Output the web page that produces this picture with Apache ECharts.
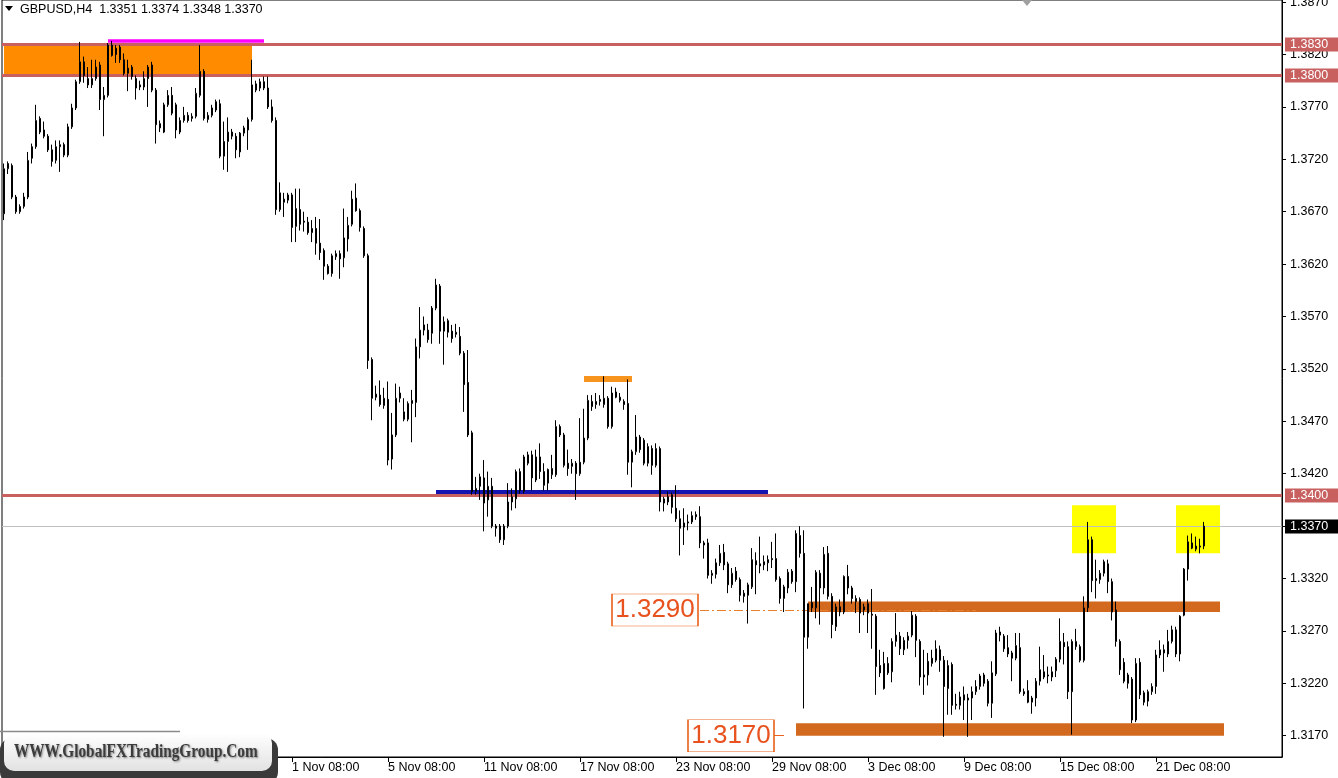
<!DOCTYPE html>
<html><head><meta charset="utf-8">
<script src="https://cdn.jsdelivr.net/npm/echarts@6/dist/echarts.min.js"></script>
<style>html,body{margin:0;padding:0;background:#fff}#c{width:1338px;height:778px}</style>
</head><body><div id="c"></div>
<script>
// Prices are stored as pips above BASE (1.3000); H4 candles starting 14 Oct 2021 08:00
const BASE = 1.3;
const opens = [
668,711,714,684,670,675,684,721,732,759, 748,742,729,719,732,734,724,751,769,794,
813,797,791,797,810,777,781,819,826,827, 815,802,808,797,791,789,797,810,786,754,
746,772,781,772,746,757,762,759,761,781, 804,758,762,767,773,723,737,742,742,727,
745,748,758,786,788,794,788,770,757,672, 679,681,686,656,672,661,660,650,654,640,
633,618,611,627,630,626,644,658,683,671, 654,628,529,493,495,485,491,434,457,492,
479,472,487,488,541,557,557,554,578,599, 556,566,556,553,551,535,507,459,403,408,
416,395,408,370,370,357,370,393,396,422, 403,430,438,414,436,422,411,419,419,465,
457,430,427,430,420,431,454,484,486,489, 486,492,465,498,493,489,487,431,441,455,
452,430,444,428,444,392,393,400,387,377, 369,373,374,381,379,354,354,323,324,335,
345,334,314,327,319,306,304,312,337,334, 333,335,339,339,320,301,311,327,317,361,
344,264,297,292,325,311,344,303,274,293, 288,322,311,301,300,290,296,286,284,237,
215,239,231,260,265,252,261,266,284,260, 228,228,239,242,252,242,215,238,200,199,
209,204,206,212,217,228,222,201,229,269, 265,254,249,244,254,212,213,202,206,222,
231,227,226,232,243,259,255,212,255,255, 242,292,357,318,319,325,334,317,290,260,
240,228,224,185,240,211,203,212,217,247, 252,248,260,271,248,285,329,354,348,350,
351];
const highs = [
716,718,716,686,677,688,727,735,772,761, 756,744,734,738,738,736,754,773,796,832,
818,808,815,815,813,789,831,833,829,829, 821,815,810,800,795,804,810,813,788,757,
774,786,789,774,760,770,765,764,788,829, 806,765,772,777,777,756,760,749,745,746,
752,760,815,795,797,799,799,777,760,698, 688,688,688,692,692,670,665,662,665,663,
635,620,630,633,633,673,665,690,697,673, 656,630,531,504,509,502,508,478,506,503,
492,489,500,549,579,570,563,580,606,601, 570,568,562,563,560,537,538,461,417,420,
433,422,416,372,372,372,411,406,424,425, 438,441,442,443,449,430,425,438,471,467,
459,443,434,432,473,482,495,495,497,495, 513,494,503,502,497,491,510,443,476,457,
454,449,447,449,446,398,403,402,409,385, 387,381,384,384,389,356,358,328,339,352,
353,336,330,331,321,309,316,349,345,360, 342,342,355,363,322,314,329,329,366,370,
366,296,312,328,328,350,351,306,296,300, 323,333,313,304,302,296,300,310,286,252,
250,245,263,287,269,264,269,289,286,262, 252,249,252,261,256,246,242,240,210,212,
217,210,217,223,229,230,224,241,271,274, 267,266,251,268,268,215,223,208,225,255,
247,236,236,245,282,268,260,262,272,257, 303,374,360,338,328,338,338,320,298,262,
244,230,226,244,244,213,214,220,252,261, 257,271,275,274,285,330,361,363,360,358,
374];
const lows = [
662,706,682,668,668,673,682,716,730,744, 740,727,713,716,708,722,722,749,767,792,
793,788,788,795,767,742,779,818,812,812, 800,785,796,777,786,786,770,784,735,746,
745,770,762,740,744,755,755,756,759,779, 757,755,760,765,721,710,708,739,721,722,
742,729,756,784,785,786,768,755,667,670, 665,678,641,641,652,651,648,641,629,624,
605,610,608,624,606,617,632,656,670,651, 626,520,471,490,484,482,428,424,455,488,
470,470,450,474,530,552,545,544,576,544, 524,550,545,550,533,479,455,400,400,395,
365,379,368,360,354,352,368,385,387,401, 401,428,404,412,415,404,404,415,417,455,
426,418,420,395,418,429,452,480,482,485, 483,463,463,492,488,481,419,407,438,440,
428,427,419,426,384,384,390,382,374,342, 352,366,372,376,349,339,320,315,320,332,
328,306,311,317,298,297,277,310,305,325, 328,327,330,317,296,288,306,315,307,340,
196,253,288,282,276,305,300,263,270,284, 286,305,296,287,268,285,268,253,209,226,
214,228,221,255,247,247,253,264,245,218, 209,218,236,240,231,169,190,190,195,195,
185,169,185,209,214,217,198,187,227,260, 250,245,222,242,210,208,201,191,198,218,
224,220,222,226,240,238,205,171,252,240, 240,288,307,301,315,322,306,280,255,228,
220,215,182,183,205,199,198,209,210,244, 231,245,258,245,241,284,318,348,346,344,
348];
const closes = [
711,716,684,670,675,684,719,732,757,746, 742,729,718,732,734,724,751,769,794,813,
800,791,797,808,777,781,829,829,820,815, 802,807,799,788,789,797,808,786,753,750,
772,781,764,748,757,762,757,761,783,804, 759,762,769,775,723,737,746,746,729,745,
750,758,791,792,794,788,770,757,672,688, 682,686,655,673,658,660,650,654,640,631,
618,611,628,630,625,645,657,682,671,655, 628,528,492,496,486,492,433,457,492,497,
472,487,490,541,557,562,548,578,600,556, 565,555,549,555,535,505,457,403,406,417,
392,408,370,368,357,370,393,398,422,404, 436,438,416,436,422,409,424,425,465,457,
428,425,430,420,431,454,490,489,489,491, 492,465,497,493,490,486,431,441,455,443,
430,446,428,444,393,396,398,388,377,368, 373,374,380,379,354,352,323,325,335,344,
333,314,325,319,304,303,314,338,333,332, 336,338,338,319,301,312,326,317,363,344,
264,296,292,326,311,343,303,276,293,288, 322,311,301,298,287,293,287,285,236,230,
239,230,260,266,253,261,265,285,261,226, 226,241,244,253,242,217,237,199,199,207,
204,206,212,217,227,220,201,230,268,266, 253,248,244,256,212,210,202,206,222,233,
226,228,231,243,260,255,212,260,260,242, 292,357,318,320,325,336,317,288,260,233,
222,220,185,239,209,202,212,217,247,252, 249,260,271,248,284,329,355,349,351,351,
370];

const futureBars = 19;
const xTickLabels = ['1 Nov 08:00','5 Nov 08:00','11 Nov 08:00','17 Nov 08:00','23 Nov 08:00',
  '29 Nov 08:00','3 Dec 08:00','9 Dec 08:00','15 Dec 08:00','21 Dec 08:00'];
const yTicks = [1.3170,1.3220,1.3270,1.3320,1.3370,1.3420,1.3470,1.3520,1.3570,1.3620,1.3670,1.3720,1.3770,1.3820,1.3870];

// drawn objects: [kind, fromBar, toBar, lowPrice, highPrice]
const zones = [
  ['orange', 0, 62, 1.3800, 1.3830],
  ['yellow', 267, 278, 1.3344, 1.3390],
  ['yellow', 293, 304, 1.3344, 1.3390],
  ['brown', 201, 304, 1.3288, 1.3298],
  ['brown', 198, 305, 1.3170, 1.3182]
];
// [kind, fromBar, toBar, price]
const segments = [
  ['magenta', 26, 65, 1.3833],
  ['orangeBar', 145, 157, 1.3511],
  ['blue', 108, 191, 1.3401]
];
// full width levels: [kind, price]
const levels = [['bid', 1.3370], ['res', 1.3830], ['res', 1.3800], ['res', 1.3400]];
const dashSegment = [174, 243, 1.3290];
const tickSegment = [192, 195, 1.3170];
// annotation boxes: [text, bar, price]
const annotations = [['1.3290', 163, 1.3290], ['1.3170', 182, 1.3170]];

// ---------- build ----------
const FONT = 'Liberation Sans';
const months = ['Jan','Feb','Mar','Apr','May','Jun','Jul','Aug','Sep','Oct','Nov','Dec'];
const pad = n => (n < 10 ? '0' : '') + n;
const cats = [];
let t = Date.UTC(2021, 9, 14, 8);
while (cats.length < opens.length + futureBars) {
  const d = new Date(t);
  const wd = d.getUTCDay();
  if (wd !== 0 && wd !== 6) cats.push(d.getUTCDate() + ' ' + months[d.getUTCMonth()] + ' ' + pad(d.getUTCHours()) + ':00');
  t += 4 * 3600e3;
}
const P = v => +(BASE + v / 1e4).toFixed(4);
const candles = opens.map((o, i) => [P(o), P(closes[i]), P(lows[i]), P(highs[i])]);

const zoneColor = { orange: '#FF8C00', yellow: '#FFFF00', brown: '#D2691E' };
const segStyle = {
  magenta: { color: '#FF00FF', width: 3.5 },
  orangeBar: { color: '#F7941D', width: 6 },
  blue: { color: '#1414B0', width: 7 }
};
const levelStyle = {
  res: { line: '#C86060', width: 3, tag: '#C86060' },
  bid: { line: '#C0C0C0', width: 1, tag: '#000000' }
};
const isTick = (i, v) => xTickLabels.indexOf(v) >= 0;

const last = opens.length - 1;
const header = 'GBPUSD,H4  ' + [opens[last], highs[last], lows[last], closes[last]].map(v => P(v).toFixed(4)).join(' ');

const helper = (extra) => Object.assign({ type: 'line', data: [], silent: true, clip: false }, extra);

const option = {
  animation: false,
  backgroundColor: '#fff',
  grid: { left: 2, right: 56, top: 0, bottom: 21, containLabel: false, outerBoundsMode: 'none',
    show: true, borderColor: '#000', borderWidth: 1, backgroundColor: '#fff' },
  xAxis: {
    type: 'category', data: cats, boundaryGap: true,
    axisLine: { lineStyle: { color: '#000', width: 1 } },
    axisTick: { show: true, interval: isTick, alignWithLabel: true, length: 5, lineStyle: { color: '#000' } },
    axisLabel: { interval: isTick, align: 'left', margin: 4, color: '#000', fontSize: 12.5, fontFamily: FONT },
    splitLine: { show: false }
  },
  yAxis: {
    type: 'value', position: 'right', min: 1.31497, max: 1.3872, scale: true,
    axisLine: { show: true, lineStyle: { color: '#000' } },
    axisTick: { show: true, customValues: yTicks, length: 4, lineStyle: { color: '#000' } },
    axisLabel: { customValues: yTicks, formatter: v => v.toFixed(4), color: '#000', fontSize: 12.5, fontFamily: FONT, margin: 8 },
    splitLine: { show: false }
  },
  series: [
    helper({
      markArea: {
        silent: true, z: 1,
        data: zones.map(z => [
          { xAxis: z[1], yAxis: z[3], itemStyle: { color: zoneColor[z[0]], opacity: 1 } },
          { xAxis: z[2], yAxis: z[4] }
        ])
      }
    }),
    helper({
      markLine: {
        silent: true, z: 2, symbol: ['none', 'none'], animation: false,
        label: { show: false },
        data: segments.map(s => [
          { coord: [s[1], s[3]], lineStyle: { color: segStyle[s[0]].color, width: segStyle[s[0]].width, type: 'solid' } },
          { coord: [s[2], s[3]] }
        ])
      }
    }),
    helper({
      markLine: {
        silent: true, z: 3, symbol: ['none', 'none'], animation: false,
        label: { show: false },
        data: [
          [
            { coord: [dashSegment[0], dashSegment[2]], lineStyle: { color: '#E8802E', width: 1, type: [9, 3, 2, 3] } },
            { coord: [dashSegment[1], dashSegment[2]] }
          ],
          [
            { coord: [tickSegment[0], tickSegment[2]], lineStyle: { color: '#E8641E', width: 1, type: 'solid' } },
            { coord: [tickSegment[1], tickSegment[2]] }
          ]
        ]
      }
    }),
    {
      // full-width price levels with their price tags on the axis
      type: 'custom', z: 4, silent: true, clip: false,
      data: levels.map(l => [0, l[1]]),
      encode: { x: 0, y: 1 },
      renderItem: (params, api) => {
        const cs = params.coordSys;
        const st = levelStyle[levels[params.dataIndex][0]];
        const y = Math.round(api.coord([0, api.value(1)])[1]) + (st.width % 2 ? 0.5 : 0);
        return {
          type: 'group',
          children: [
            { type: 'line', shape: { x1: cs.x, y1: y, x2: cs.x + cs.width, y2: y }, style: { stroke: st.line, lineWidth: st.width } },
            { type: 'rect', shape: { x: cs.x + cs.width + 3, y: y - 7, width: 60, height: 14 }, style: { fill: st.tag } },
            { type: 'text', x: cs.x + cs.width + 8, y: y + 0.5,
              style: { text: api.value(1).toFixed(4), fill: '#fff', font: '12.5px "Liberation Sans"', verticalAlign: 'middle' } }
          ]
        };
      }
    },
    {
      type: 'candlestick', z: 5, data: candles, barWidth: 2,
      itemStyle: { color: '#ffffff', color0: '#000000', borderColor: '#000000', borderColor0: '#000000', borderColorDoji: '#000000', borderWidth: 1 },
      emphasis: { disabled: true }
    },
    helper({
      markPoint: {
        silent: true, z: 6, animation: false,
        data: annotations.map(a => ({
          coord: [a[1], a[2]], symbol: 'rect', symbolSize: [86, 32], symbolOffset: [-1, 0],
          itemStyle: { color: '#ffffff', borderColor: '#E8641E', borderWidth: 1 },
          label: { show: true, position: 'inside', formatter: a[0], fontSize: 26, color: '#E8521E', fontFamily: FONT }
        }))
      }
    })
  ],
  graphic: [
    { type: 'polygon', z: 50, shape: { points: [[5, 6], [13, 6], [9, 11]] }, style: { fill: '#000' } },
    { type: 'text', z: 50, left: 20, top: 3, style: { text: header, font: '12.5px "Liberation Sans"', fill: '#000' } },
    { type: 'polygon', z: 50, shape: { points: [[1022, 0], [1032, 0], [1027, 6]] }, style: { fill: '#A0A0A0' } },
    { type: 'line', z: 100, shape: { x1: 0, y1: 731.5, x2: 180, y2: 731.5 }, style: { stroke: '#8a8a8a', lineWidth: 1.5 } },
    { type: 'rect', z: 100, shape: { x: 0, y: 738, width: 278, height: 46, r: 12 }, style: { fill: '#3a3a3a' } },
    { type: 'rect', z: 101, shape: { x: 4, y: 733, width: 268, height: 38, r: 10 },
      style: { fill: new echarts.graphic.LinearGradient(0, 0, 0, 1, [{ offset: 0, color: '#ffffff' }, { offset: 1, color: '#e2e2e2' }]) } },
    { type: 'text', z: 102, x: 14, y: 752, scaleX: 0.85, originX: 0, originY: 0,
      style: { text: 'WWW.GlobalFXTradingGroup.Com', font: 'bold 18px "Liberation Serif"', fill: '#3c3c3c', verticalAlign: 'middle',
        textShadowColor: 'rgba(0,0,0,0.45)', textShadowBlur: 2, textShadowOffsetX: 1, textShadowOffsetY: 1 } }
  ]
};
const chart = echarts.init(document.getElementById('c'));
chart.setOption(option);
</script>
</body></html>
